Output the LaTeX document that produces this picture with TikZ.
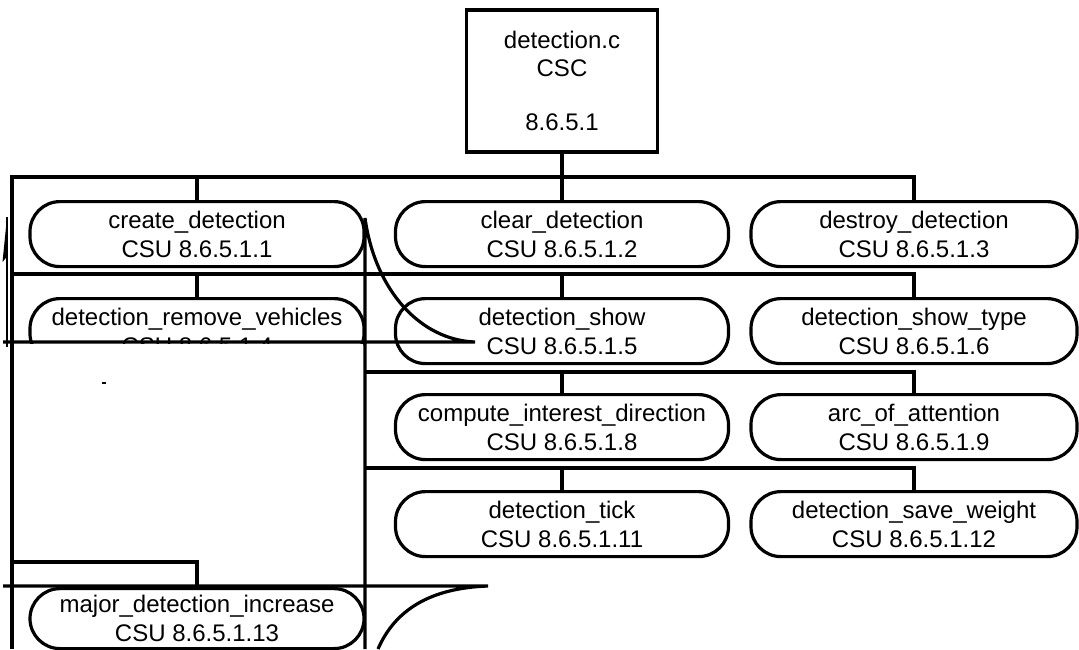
\documentclass[tikz,border=0pt]{standalone}
\usepackage{fontspec}
\setmainfont{Liberation Sans}
\usetikzlibrary{arrows.meta}
\begin{document}
\begin{tikzpicture}[x=1pt,y=-1pt,
  ln/.style={line width=3.2pt},
  txt/.style={font=\fontsize{24}{29}\selectfont},
  csu/.style={draw,line width=3.2pt,rounded corners=30pt,minimum height=65pt,
    inner sep=0pt,align=center,anchor=north,txt},
  wa/.style={csu,minimum width=334pt},
  wb/.style={csu,minimum width=333pt},
  wc/.style={csu,minimum width=326pt}]
\useasboundingbox (0,0) rectangle (1079,649);

% top component
\node[draw,ln,minimum width=191pt,minimum height=142pt,inner sep=0pt,align=center,
  font=\fontsize{24}{27.5}\selectfont] (top) at (562,81)
  {detection.c\\CSC\\[27pt]8.6.5.1};

% row 1
\node[wa] (n1) at (197,200) {create\_detection\\CSU 8.6.5.1.1};
\node[wb] (n2) at (562,200) {clear\_detection\\CSU 8.6.5.1.2};
\node[wc] (n3) at (914,200) {destroy\_detection\\CSU 8.6.5.1.3};
% row 2
\node[wa] (n4) at (197,297) {detection\_remove\_vehicles\\CSU 8.6.5.1.4};
\node[wb] (n5) at (562,297) {detection\_show\\CSU 8.6.5.1.5};
\node[wc] (n6) at (914,297) {detection\_show\_type\\CSU 8.6.5.1.6};
% row 3
\node[wb] (n8) at (562,393) {compute\_interest\_direction\\CSU 8.6.5.1.8};
\node[wc] (n9) at (914,393) {arc\_of\_attention\\CSU 8.6.5.1.9};
% row 4
\node[wb] (n11) at (562,490) {detection\_tick\\CSU 8.6.5.1.11};
\node[wc] (n12) at (914,490) {detection\_save\_weight\\CSU 8.6.5.1.12};

% buses
\coordinate (b1) at (12,177);
\coordinate (lb) at (12,649);
\draw[ln] (top.south) -- (n2.north);
\draw[ln] (lb) -- (b1) -- (b1 -| n3.north) -- (n3.north);
\draw[ln] (b1 -| n1.north) -- (n1.north);

\coordinate (b2) at (12,274);
\draw[ln] (b2) -- (b2 -| n6.north) -- (n6.north);
\draw[ln] (b2 -| n4.north) -- (n4.north);
\draw[ln] (b2 -| n5.north) -- (n5.north);

\coordinate (b3) at (365,372);
\draw[ln] (b3) -- (b3 -| n9.north) -- (n9.north);
\draw[ln] (b3 -| n8.north) -- (n8.north);

\coordinate (b4) at (365,468);
\draw[ln] (b4) -- (b4 -| n12.north) -- (n12.north);
\draw[ln] (b4 -| n11.north) -- (n11.north);

% pasted-over sheet
\fill[white] (13.6,343.6) rectangle (363.4,584.4);
\coordinate (cs) at (365,218);
\coordinate (ce) at (475,342);
\coordinate (h1) at (3,342);
\coordinate (vb) at (365,649);
\draw[ln] (h1) -- (ce) .. controls (420,340) and (375,290) .. (cs) -- (vb);

\coordinate (h2) at (3,586);
\coordinate (h2e) at (488,586);
\coordinate (h2b) at (378,649);
\draw[ln] (h2) -- (h2e) .. controls (430,588) and (395,610) .. (h2b);

\node[wa,minimum height=60pt] (n13) at (197,587) {major\_detection\_increase\\CSU 8.6.5.1.13};
\coordinate (b5) at (12,562);
\draw[ln] (b5) -- (b5 -| n13.north) -- (n13.north);

% arrow at the left edge
\coordinate (ab) at (7,347);
\coordinate (at) at (7,217);
\draw[line width=2.2pt] (ab) -- (at);
\fill (at) -- (2.5,262) -- (7.5,256) -- cycle;

% speck
\draw[line width=1.8pt] (102,383) -- (106,383);
\end{tikzpicture}
\end{document}
